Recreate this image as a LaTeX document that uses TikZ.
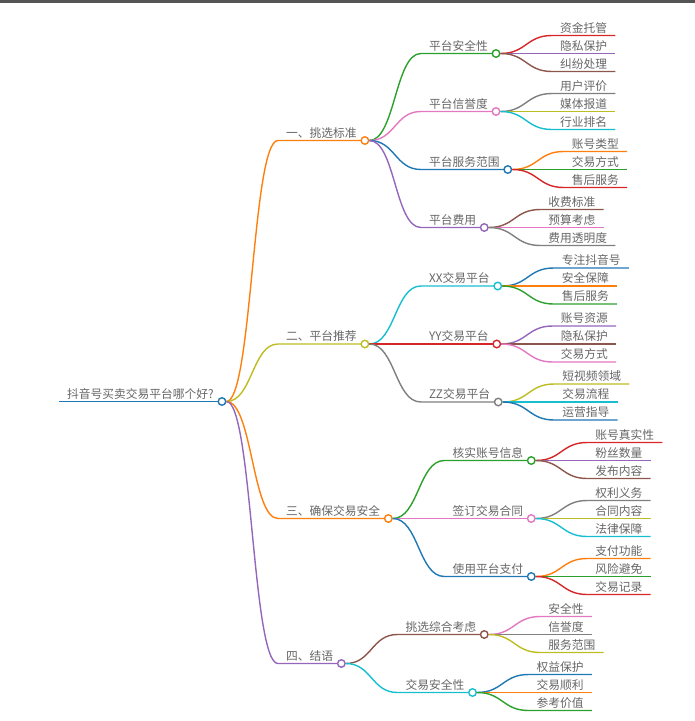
\documentclass[tikz,border=0pt]{standalone}
\usepackage{fontspec}
\setmainfont{Noto Sans CJK SC}
\usetikzlibrary{positioning,calc}

\definecolor{mblue}{HTML}{1F77B4}
\definecolor{morange}{HTML}{FF7F0E}
\definecolor{mgreen}{HTML}{2CA02C}
\definecolor{mred}{HTML}{D62728}
\definecolor{mpurple}{HTML}{9467BD}
\definecolor{mbrown}{HTML}{8C564B}
\definecolor{mpink}{HTML}{E377C2}
\definecolor{mgray}{HTML}{7F7F7F}
\definecolor{molive}{HTML}{BCBD22}
\definecolor{mcyan}{HTML}{17BECF}
\definecolor{txt}{HTML}{666666}
\definecolor{bar}{HTML}{555555}

\begin{document}
\begin{tikzpicture}[x=1pt,y=-1pt,
    font=\fontsize{11.75pt}{14pt}\selectfont,
    topic/.style={anchor=south west,inner xsep=8pt,inner ysep=2pt,text=txt},
    dot/.style={circle,draw=#1,fill=white,line width=1.4pt,minimum size=7.5pt,inner sep=0pt},
    link/.style={draw=#1,line width=1.4pt},
    mm/.style={to path={.. controls ($(\tikztostart)!.5!(\tikztostart -| \tikztotarget)$)
        and ($(\tikztotarget)!.5!(\tikztotarget -| \tikztostart)$) .. (\tikztotarget)}}]
  \useasboundingbox (0,0) rectangle (695,721);
  \fill[bar] (0,0) rectangle (695,2.5);

  % root
  \node[topic] (root) at (59,401.5) {抖音号买卖交易平台哪个好?};
  \draw[link=mblue] (root.south west) -- (root.south east);
  \node[dot=mblue] (droot) at (root.south east) {};

  % main branches
  \node[topic,above right=261pt and 56pt of droot.center] (pick) {一、挑选标准};
  \draw[link=morange] (droot.east) to[mm] (pick.south west) -- (pick.south east);
  \node[dot=morange] (dpick) at (pick.south east) {};
  \node[topic,above right=57.5pt and 56pt of droot.center] (rec) {二、平台推荐};
  \draw[link=molive] (droot.east) to[mm] (rec.south west) -- (rec.south east);
  \node[dot=molive] (drec) at (rec.south east) {};
  \node[topic,above right=-117pt and 56pt of droot.center] (safe) {三、确保交易安全};
  \draw[link=morange] (droot.east) to[mm] (safe.south west) -- (safe.south east);
  \node[dot=morange] (dsafe) at (safe.south east) {};
  \node[topic,above right=-262pt and 56pt of droot.center] (concl) {四、结语};
  \draw[link=mpurple] (droot.east) to[mm] (concl.south west) -- (concl.south east);
  \node[dot=mpurple] (dconcl) at (concl.south east) {};

  % 一、挑选标准
  \node[topic,above right=87pt and 56pt of dpick.center] (sec) {平台安全性};
  \draw[link=mgreen] (dpick.east) to[mm] (sec.south west) -- (sec.south east);
  \node[dot=mgreen] (dsec) at (sec.south east) {};
  \foreach \t/\c/\dy [count=\i] in {资金托管/mred/18,隐私保护/mpurple/0,纠纷处理/mbrown/-18}{
    \node[topic,above right=\dy pt and 56pt of dsec.center] (sec\i) {\t};
    \draw[link=\c] (dsec.east) to[mm] (sec\i.south west) -- (sec\i.south east);}

  \node[topic,above right=29pt and 56pt of dpick.center] (rep) {平台信誉度};
  \draw[link=mpink] (dpick.east) to[mm] (rep.south west) -- (rep.south east);
  \node[dot=mpink] (drep) at (rep.south east) {};
  \foreach \t/\c/\dy [count=\i] in {用户评价/mgray/18,媒体报道/molive/0,行业排名/mcyan/-18}{
    \node[topic,above right=\dy pt and 56pt of drep.center] (rep\i) {\t};
    \draw[link=\c] (drep.east) to[mm] (rep\i.south west) -- (rep\i.south east);}

  \node[topic,above right=-29pt and 56pt of dpick.center] (svc) {平台服务范围};
  \draw[link=mblue] (dpick.east) to[mm] (svc.south west) -- (svc.south east);
  \node[dot=mblue] (dsvc) at (svc.south east) {};
  \foreach \t/\c/\dy [count=\i] in {账号类型/morange/18,交易方式/mgreen/0,售后服务/mred/-18}{
    \node[topic,above right=\dy pt and 56pt of dsvc.center] (svc\i) {\t};
    \draw[link=\c] (dsvc.east) to[mm] (svc\i.south west) -- (svc\i.south east);}

  \node[topic,above right=-87pt and 56pt of dpick.center] (fee) {平台费用};
  \draw[link=mpurple] (dpick.east) to[mm] (fee.south west) -- (fee.south east);
  \node[dot=mpurple] (dfee) at (fee.south east) {};
  \foreach \t/\c/\dy [count=\i] in {收费标准/mbrown/18,预算考虑/mpink/0,费用透明度/mgray/-18}{
    \node[topic,above right=\dy pt and 56pt of dfee.center] (fee\i) {\t};
    \draw[link=\c] (dfee.east) to[mm] (fee\i.south west) -- (fee\i.south east);}

  % 二、平台推荐
  \node[topic,above right=58pt and 56pt of drec.center] (xx) {XX交易平台};
  \draw[link=mcyan] (drec.east) to[mm] (xx.south west) -- (xx.south east);
  \node[dot=mcyan] (dxx) at (xx.south east) {};
  \foreach \t/\c/\dy [count=\i] in {专注抖音号/mblue/18,安全保障/morange/0,售后服务/mgreen/-18}{
    \node[topic,above right=\dy pt and 56pt of dxx.center] (xx\i) {\t};
    \draw[link=\c] (dxx.east) to[mm] (xx\i.south west) -- (xx\i.south east);}

  \node[topic,above right=0pt and 56pt of drec.center] (yy) {YY交易平台};
  \draw[link=mred] (drec.east) to[mm] (yy.south west) -- (yy.south east);
  \node[dot=mred] (dyy) at (yy.south east) {};
  \foreach \t/\c/\dy [count=\i] in {账号资源/mpurple/18,隐私保护/mbrown/0,交易方式/mpink/-18}{
    \node[topic,above right=\dy pt and 56pt of dyy.center] (yy\i) {\t};
    \draw[link=\c] (dyy.east) to[mm] (yy\i.south west) -- (yy\i.south east);}

  \node[topic,above right=-58pt and 56pt of drec.center] (zz) {ZZ交易平台};
  \draw[link=mgray] (drec.east) to[mm] (zz.south west) -- (zz.south east);
  \node[dot=mgray] (dzz) at (zz.south east) {};
  \foreach \t/\c/\dy [count=\i] in {短视频领域/molive/18,交易流程/mcyan/0,运营指导/mblue/-18}{
    \node[topic,above right=\dy pt and 56pt of dzz.center] (zz\i) {\t};
    \draw[link=\c] (dzz.east) to[mm] (zz\i.south west) -- (zz\i.south east);}

  % 三、确保交易安全
  \node[topic,above right=58pt and 56pt of dsafe.center] (chk) {核实账号信息};
  \draw[link=mgreen] (dsafe.east) to[mm] (chk.south west) -- (chk.south east);
  \node[dot=mgreen] (dchk) at (chk.south east) {};
  \foreach \t/\c/\dy [count=\i] in {账号真实性/mred/18,粉丝数量/mpurple/0,发布内容/mbrown/-18}{
    \node[topic,above right=\dy pt and 56pt of dchk.center] (chk\i) {\t};
    \draw[link=\c] (dchk.east) to[mm] (chk\i.south west) -- (chk\i.south east);}

  \node[topic,above right=0pt and 56pt of dsafe.center] (sign) {签订交易合同};
  \draw[link=mpink] (dsafe.east) to[mm] (sign.south west) -- (sign.south east);
  \node[dot=mpink] (dsign) at (sign.south east) {};
  \foreach \t/\c/\dy [count=\i] in {权利义务/mgray/18,合同内容/molive/0,法律保障/mcyan/-18}{
    \node[topic,above right=\dy pt and 56pt of dsign.center] (sign\i) {\t};
    \draw[link=\c] (dsign.east) to[mm] (sign\i.south west) -- (sign\i.south east);}

  \node[topic,above right=-58pt and 56pt of dsafe.center] (pay) {使用平台支付};
  \draw[link=mblue] (dsafe.east) to[mm] (pay.south west) -- (pay.south east);
  \node[dot=mblue] (dpay) at (pay.south east) {};
  \foreach \t/\c/\dy [count=\i] in {支付功能/morange/18,风险避免/mgreen/0,交易记录/mred/-18}{
    \node[topic,above right=\dy pt and 56pt of dpay.center] (pay\i) {\t};
    \draw[link=\c] (dpay.east) to[mm] (pay\i.south west) -- (pay\i.south east);}

  % 四、结语
  \node[topic,above right=29pt and 56pt of dconcl.center] (comp) {挑选综合考虑};
  \draw[link=mbrown] (dconcl.east) to[mm] (comp.south west) -- (comp.south east);
  \node[dot=mbrown] (dcomp) at (comp.south east) {};
  \foreach \t/\c/\dy [count=\i] in {安全性/mpink/18,信誉度/mgray/0,服务范围/molive/-18}{
    \node[topic,above right=\dy pt and 56pt of dcomp.center] (comp\i) {\t};
    \draw[link=\c] (dcomp.east) to[mm] (comp\i.south west) -- (comp\i.south east);}

  \node[topic,above right=-29pt and 56pt of dconcl.center] (tsafe) {交易安全性};
  \draw[link=mcyan] (dconcl.east) to[mm] (tsafe.south west) -- (tsafe.south east);
  \node[dot=mcyan] (dtsafe) at (tsafe.south east) {};
  \foreach \t/\c/\dy [count=\i] in {权益保护/mblue/18,交易顺利/morange/0,参考价值/mgreen/-18}{
    \node[topic,above right=\dy pt and 56pt of dtsafe.center] (tsafe\i) {\t};
    \draw[link=\c] (dtsafe.east) to[mm] (tsafe\i.south west) -- (tsafe\i.south east);}
\end{tikzpicture}
\end{document}
